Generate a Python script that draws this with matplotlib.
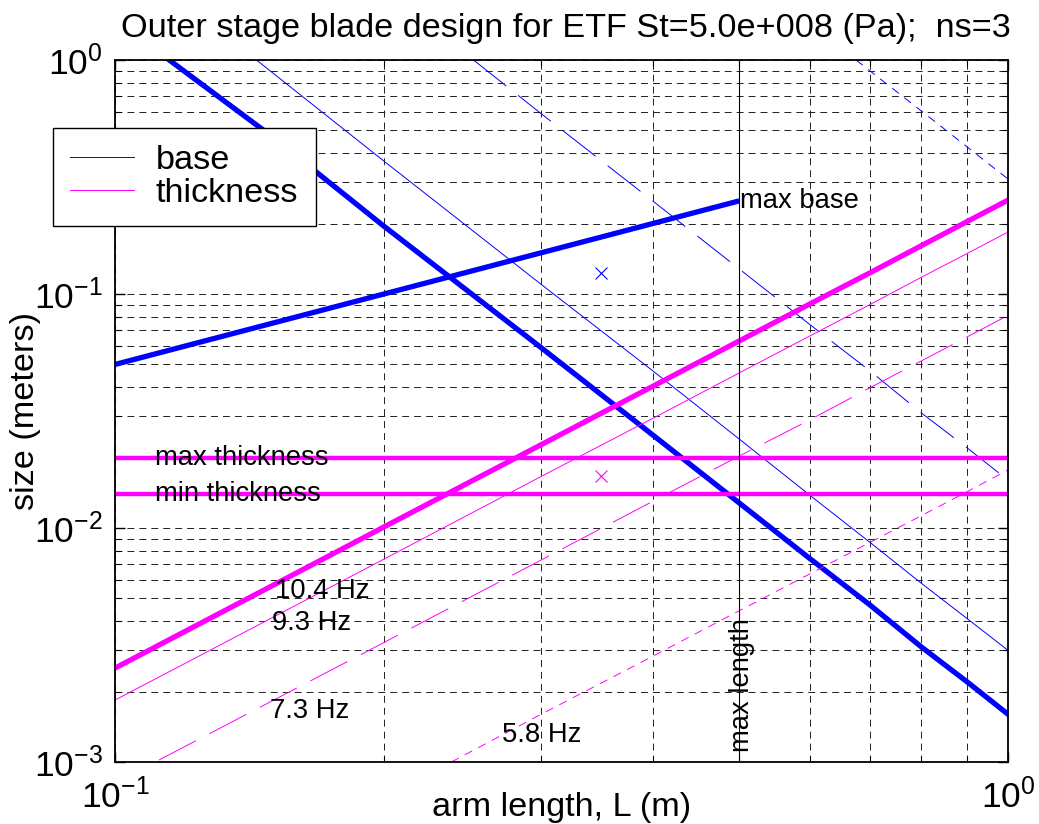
import numpy as np
import matplotlib
matplotlib.use("Agg")
import matplotlib.pyplot as plt
from matplotlib.ticker import FuncFormatter, LogLocator, NullFormatter

plt.rcParams['font.family'] = ['Liberation Sans', 'DejaVu Sans']
plt.rcParams['mathtext.default'] = 'regular'
plt.rcParams['lines.scale_dashes'] = False

# blade base (width) curves, one per resonance frequency
L_base_104 = [0.115, 0.15, 0.2, 0.3, 0.4, 0.5, 0.6, 0.7, 0.8, 0.9, 1.0]
base_104 = [1.0, 0.47, 0.195, 0.059, 0.025, 0.0128, 0.0074, 0.0047, 0.0031, 0.0022, 0.0016]
L_base_93 = [0.144, 0.2, 0.3, 0.4, 0.5, 0.6, 0.7, 0.8, 0.9, 1.0]
base_93 = [1.0, 0.37, 0.11, 0.047, 0.024, 0.0138, 0.0087, 0.0058, 0.0041, 0.003]
L_base_73 = [0.252, 0.3, 0.4, 0.5, 0.6, 0.7, 0.8, 0.9, 1.0]
base_73 = [1.0, 0.59, 0.25, 0.128, 0.074, 0.047, 0.031, 0.022, 0.016]
L_base_58 = [0.676, 0.7, 0.8, 0.9, 1.0]
base_58 = [1.0, 0.9, 0.605, 0.425, 0.31]

# blade thickness curves
L_thk_104 = [0.1, 0.15, 0.2, 0.3, 0.4, 0.5, 0.6, 0.7, 0.8, 0.9, 1.0]
thk_104 = [0.00252, 0.00567, 0.0101, 0.0227, 0.0403, 0.063, 0.0907, 0.123, 0.161, 0.204, 0.252]
L_thk_93 = [0.1, 0.2, 0.3, 0.4, 0.5, 0.6, 0.7, 0.8, 0.9, 1.0]
thk_93 = [0.00184, 0.00736, 0.0166, 0.0294, 0.046, 0.0662, 0.090, 0.118, 0.149, 0.184]
L_thk_73 = [0.112, 0.2, 0.3, 0.4, 0.5, 0.6, 0.7, 0.8, 0.9, 1.0]
thk_73 = [0.00102, 0.00324, 0.0073, 0.013, 0.0203, 0.029, 0.0397, 0.0518, 0.0656, 0.081]
L_thk_58 = [0.238, 0.3, 0.4, 0.5, 0.6, 0.7, 0.8, 0.9, 1.0]
thk_58 = [0.001, 0.0016, 0.00283, 0.00443, 0.00637, 0.00867, 0.0113, 0.0143, 0.0177]

# limits
L_maxbase = [0.1, 0.5]
maxbase = [0.05, 0.25]
max_thickness = 0.02
min_thickness = 0.014
max_length = 0.5

# chosen design point
design_L = 0.35
design_base = 0.123
design_thk = 0.0167

freq_labels = ['10.4 Hz', '9.3 Hz', '7.3 Hz', '5.8 Hz']
freq_label_x = [0.151, 0.15, 0.149, 0.271]
freq_label_y = [0.00538, 0.00393, 0.00165, 0.0013]

BLUE = '#0000ff'
MAG = '#ff00ff'
long_dash = (0, (30, 11))
short_dash = (0, (6, 5))
ANN = 19.7
BIG = 24.7

fig = plt.figure(figsize=(10.39, 8.24), dpi=100)
ax = fig.add_axes([0.1107, 0.0752, 0.8595, 0.852])

ax.plot(L_base_104, base_104, color=BLUE, lw=3.8)
h_base, = ax.plot(L_base_93, base_93, color=BLUE, lw=0.7)
ax.plot(L_base_73, base_73, color=BLUE, lw=0.7, ls=long_dash)
ax.plot(L_base_58, base_58, color=BLUE, lw=0.7, ls=short_dash)

ax.plot(L_thk_104, thk_104, color=MAG, lw=3.8)
h_thk, = ax.plot(L_thk_93, thk_93, color=MAG, lw=0.7)
ax.plot(L_thk_73, thk_73, color=MAG, lw=0.7, ls=long_dash)
ax.plot(L_thk_58, thk_58, color=MAG, lw=0.7, ls=short_dash)

ax.plot(L_maxbase, maxbase, color=BLUE, lw=3.8, solid_capstyle='butt')
ax.axhline(max_thickness, color=MAG, lw=3.2)
ax.axhline(min_thickness, color=MAG, lw=3.2)
ax.axvline(max_length, color='k', lw=0.8)

ax.plot(design_L, design_base, 'x', color=BLUE, ms=8, mew=0.8)
ax.plot(design_L, design_thk, 'x', color=MAG, ms=8, mew=0.8)

ax.set_xscale('log')
ax.set_yscale('log')
ax.set_xlim(0.1, 1.0)
ax.set_ylim(1e-3, 1.0)

ax.text(0.501, maxbase[-1], 'max base', fontsize=ANN, va='center', ha='left')
ax.text(0.111, max_thickness, 'max thickness', fontsize=ANN, va='center', ha='left')
ax.text(0.111, min_thickness, 'min thickness', fontsize=ANN, va='center', ha='left')
for lab, x, y in zip(freq_labels, freq_label_x, freq_label_y):
    ax.text(x, y, lab, fontsize=ANN, va='center', ha='left')
ax.text(0.503, 1.1e-3, 'max length', fontsize=ANN, rotation=90, ha='center', va='bottom')

# MATLAB-ish log grid
ax.xaxis.set_major_locator(LogLocator(base=10, numticks=5))
ax.xaxis.set_minor_locator(LogLocator(base=10, subs=np.arange(2, 10), numticks=20))
ax.yaxis.set_minor_locator(LogLocator(base=10, subs=np.arange(2, 10), numticks=20))
fmt = FuncFormatter(lambda v, p: r'$10^{%d}$' % int(round(np.log10(v))))
ax.xaxis.set_major_formatter(fmt)
ax.yaxis.set_major_formatter(fmt)
ax.xaxis.set_minor_formatter(NullFormatter())
ax.yaxis.set_minor_formatter(NullFormatter())
ax.grid(True, which='both', color='#202020', lw=0.7, ls=(0, (5, 3.6)))
ax.tick_params(which='both', direction='in', top=True, right=True, labelsize=25.5)
ax.tick_params(which='major', length=7, width=1)
ax.tick_params(which='minor', length=4, width=0.8)
ax.tick_params(axis='x', pad=12)
ax.tick_params(axis='y', pad=9)
for s in ax.spines.values():
    s.set_linewidth(1.3)

ax.set_xlabel('arm length, L (m)', fontsize=BIG)
ax.set_ylabel('size (meters)', fontsize=BIG)
ax.xaxis.set_label_coords(0.5, -0.043)
ax.yaxis.set_label_coords(-0.083, 0.5)

fig.text(566 / 1039, 1 - 28 / 824, 'Outer stage blade design for ETF St=5.0e+008 (Pa);  ns=3',
         fontsize=BIG, ha='center', va='center')

leg = fig.legend([h_base, h_thk], ['base', 'thickness'], loc='upper left',
                 bbox_to_anchor=(0.051, 0.845), fontsize=BIG, frameon=True,
                 fancybox=False, framealpha=1, edgecolor='k', handlelength=1.85,
                 handletextpad=0.65, borderpad=0.5, labelspacing=0.05, borderaxespad=0)
leg.get_frame().set_linewidth(1.0)

fig.savefig('out.png', dpi=100)
